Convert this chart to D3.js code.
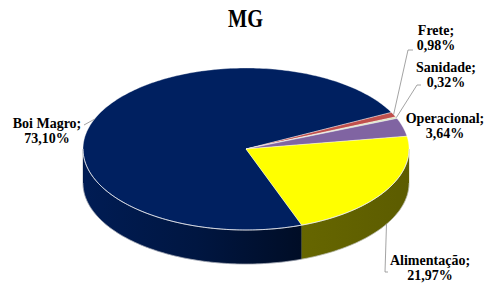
<!DOCTYPE html>
<html>
<head>
<meta charset="utf-8">
<script src="https://cdn.jsdelivr.net/npm/d3@7"></script>
<style>
  body { margin: 0; background: #fff; }
  text { font-family: "Liberation Serif", serif; font-weight: bold; fill: #000; }
</style>
</head>
<body>
<svg id="chart" width="486" height="284"></svg>
<script>
const categories = ["Boi Magro", "Frete", "Sanidade", "Operacional", "Alimentação"];
const shares = [73.10, 0.98, 0.32, 3.64, 21.97];
const colors = ["#002060", "#C0504D", "#D7E4BD", "#8064A2", "#FFFF00"];

const W = 486, H = 284;
const cx = 246, cy = 149, rx = 163, ry = 81, depth = 34;
const START = 160 * Math.PI / 180;

// where excel put each label (text centre x, first baseline) and the elbow of its leader
const labelPos = {
  "Boi Magro":   { x: 47,  y: 128, elbow: [84, 125], from: "top" },
  "Frete":       { x: 436, y: 35,  elbow: [408, 50], end: [413, 50], from: "top" },
  "Sanidade":    { x: 446, y: 72,  elbow: [417, 85], end: [421, 85], from: "top" },
  "Operacional": { x: 445, y: 123, from: null },
  "Alimentação": { x: 430, y: 265, elbow: [385, 272], end: [388, 272], from: "bottom" }
};

const svg = d3.select("#chart");
const fmt = v => d3.format(".2f")(v).replace(".", ",") + "%";

const rows = categories.map((c, i) => ({ name: c, value: shares[i], color: colors[i] }));
const pie = d3.pie().sort(null).value(d => d.value)
  .startAngle(START).endAngle(START + 2 * Math.PI);
const arcs = pie(rows);

const pt = (a, dy = 0) => [cx + rx * Math.sin(a), cy - ry * Math.cos(a) + dy];

function arcPoints(a0, a1, dy) {
  const n = Math.max(2, Math.ceil(Math.abs(a1 - a0) / 0.02));
  return d3.range(n + 1).map(k => pt(a0 + (a1 - a0) * k / n, dy));
}

// side-wall shading, lighter on the left
const defs = svg.append("defs");
arcs.forEach((d, i) => {
  const g = defs.append("linearGradient").attr("id", "side" + i)
    .attr("gradientUnits", "userSpaceOnUse")
    .attr("x1", cx - rx).attr("x2", cx + rx).attr("y1", 0).attr("y2", 0);
  [[0, 0.88], [0.35, 0.68], [0.67, 0.4], [1, 0.36]].forEach(([o, k]) => {
    const c = d3.rgb(d.data.color);
    g.append("stop").attr("offset", o)
      .attr("stop-color", d3.rgb(c.r * k, c.g * k, c.b * k));
  });
});

// front walls
const fronts = [[Math.PI / 2, 1.5 * Math.PI], [2.5 * Math.PI, 3.5 * Math.PI]];
const sides = svg.append("g");
arcs.forEach((d, i) => {
  fronts.forEach(([f0, f1]) => {
    const s = Math.max(d.startAngle, f0), e = Math.min(d.endAngle, f1);
    if (e <= s) return;
    const top = arcPoints(s, e, 0);
    const bot = arcPoints(e, s, depth);
    sides.append("path")
      .attr("d", "M" + top.concat(bot).map(p => p.join(",")).join("L") + "Z")
      .attr("fill", `url(#side${i})`)
      .attr("stroke", d3.rgb(d.data.color).darker(2.5))
      .attr("stroke-width", 0.3);
  });
});
// light seam along the bottom rim
sides.append("path")
  .attr("d", "M" + arcPoints(Math.PI / 2, 1.5 * Math.PI, depth).map(p => p.join(",")).join("L"))
  .attr("fill", "none").attr("stroke", "#c8cbd6").attr("stroke-width", 0.8).attr("opacity", 0.7);

// top faces
svg.append("g").selectAll("path").data(arcs).join("path")
  .attr("d", d => "M" + [[cx, cy]].concat(arcPoints(d.startAngle, d.endAngle, 0))
    .map(p => p.join(",")).join("L") + "Z")
  .attr("fill", d => d.data.color)
  .attr("stroke", "#ffffff").attr("stroke-opacity", 0.6).attr("stroke-width", 0.6)
  .attr("stroke-linejoin", "round");

// highlight on the front rim of the top
svg.append("path")
  .attr("d", "M" + arcPoints(Math.PI / 2, 1.5 * Math.PI, 0).map(p => p.join(",")).join("L"))
  .attr("fill", "none").attr("stroke", "#e8eaf0").attr("stroke-width", 1).attr("opacity", 0.8);

// leader lines
const leaders = svg.append("g").attr("fill", "none").attr("stroke", "#8c8c8c").attr("stroke-width", 0.8);
arcs.forEach(d => {
  const L = labelPos[d.data.name];
  if (!L.from) return;
  const mid = (d.startAngle + d.endAngle) / 2;
  const start = pt(mid, L.from === "bottom" ? depth : 0);
  const pts = [start, L.elbow].concat(L.end ? [L.end] : []);
  leaders.append("path").attr("d", "M" + pts.map(p => p.join(",")).join("L"));
});

// labels
const labels = svg.append("g").attr("font-size", 14).attr("text-anchor", "middle");
arcs.forEach(d => {
  const L = labelPos[d.data.name];
  const t = labels.append("text").attr("x", L.x).attr("y", L.y);
  t.append("tspan").attr("x", L.x).text(d.data.name + ";");
  t.append("tspan").attr("x", L.x).attr("dy", 15).text(fmt(d.data.value));
});

// title
svg.append("text").attr("x", 245.5).attr("y", 27)
  .attr("text-anchor", "middle").attr("font-size", 25)
  .attr("textLength", 35).attr("lengthAdjust", "spacingAndGlyphs")
  .text("MG");
</script>
</body>
</html>
